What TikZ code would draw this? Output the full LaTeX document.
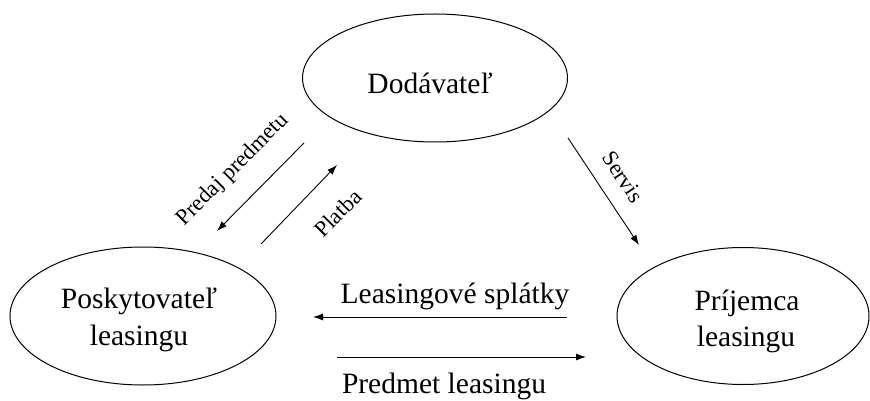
\documentclass[tikz,border=0pt]{standalone}
\usepackage{fontspec}
\setmainfont{Liberation Serif}
\usetikzlibrary{shapes.geometric,arrows.meta}
\begin{document}
\begin{tikzpicture}[x=1pt,y=-1pt,
  ell/.style={draw,ellipse,line width=1pt,inner sep=0pt},
  big/.style={font=\fontsize{29.5}{37}\selectfont,inner sep=0pt,anchor=base},
  small/.style={font=\fontsize{22.5}{26}\selectfont,inner sep=0pt},
  arr/.style={line width=0.9pt,-{Latex[length=10pt,width=7pt]}}]
\useasboundingbox (0,0) rectangle (870,401);
% ellipses
\node[ell,minimum width=265pt,minimum height=128pt] (dod) at (435,78) {};
\node[ell,minimum width=266pt,minimum height=138pt] (pos) at (143,316) {};
\node[ell,minimum width=252pt,minimum height=137pt] (pri) at (743,316) {};
% ellipse texts
\node[big] (dodt) at (430,94) {Dodávateľ};
\node[big] (pos1) at (139,308) {Poskytovateľ};
\node[big] (pos2) at (139,345) {leasingu};
\node[big] (pri1) at (747,310) {Príjemca};
\node[big] (pri2) at (746,346) {leasingu};
% arrow end points
\coordinate (a1s) at (304,143);
\coordinate (a1e) at (217,231);
\coordinate (a2s) at (261,244);
\coordinate (a2e) at (337,165);
\coordinate (a3s) at (568,138);
\coordinate (a3e) at (639,245);
\coordinate (a4s) at (567,317);
\coordinate (a4e) at (313,317);
\coordinate (a5s) at (337,357);
\coordinate (a5e) at (586,357);
\draw[arr] (a1s) -- (a1e);
\draw[arr] (a2s) -- (a2e);
\draw[arr] (a3s) -- (a3e);
\draw[arr] (a4s) -- (a4e);
\draw[arr] (a5s) -- (a5e);
% labels
\node[small,rotate=45] (lpred) at (233,170) {Predaj predmetu};
\node[small,rotate=45] (lplat) at (338,213) {Platba};
\node[small,rotate=-56] (lserv) at (623,177) {Servis};
\node[big] (lspl) at (455,303) {Leasingové splátky};
\node[big] (lpre) at (444,393) {Predmet leasingu};
\end{tikzpicture}
\end{document}
